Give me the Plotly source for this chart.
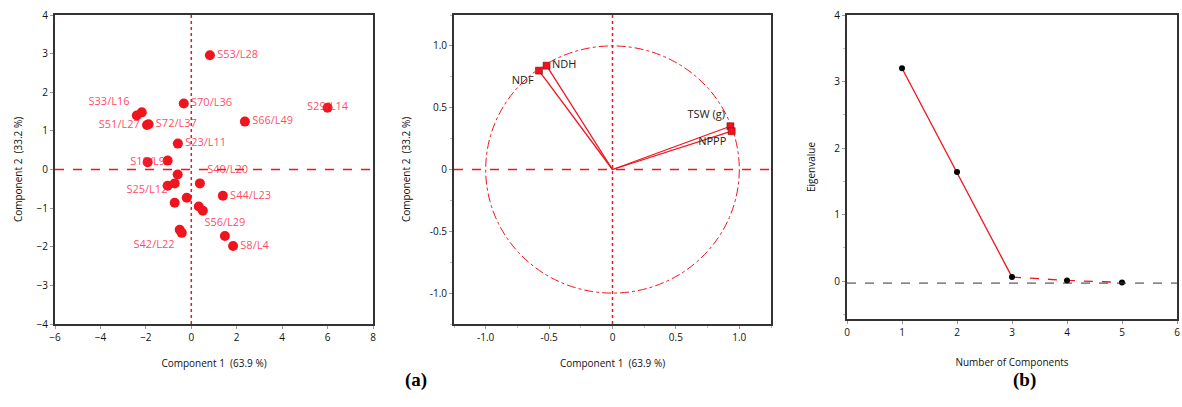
import plotly.graph_objects as go

# ---------------- data ----------------
score_x = [0.82, -0.33, 6.0, 2.36, -2.4, -2.18, -1.95, -1.88, -0.59, -1.92, -1.04,
           -0.6, -1.04, -0.73, 0.38, -0.2, 1.39, -0.73, 0.33, 0.51, -0.51, -0.42, 1.48, 1.84]
score_y = [2.96, 1.71, 1.6, 1.24, 1.4, 1.48, 1.15, 1.17, 0.67, 0.19, 0.23,
           -0.13, -0.42, -0.36, -0.36, -0.73, -0.68, -0.86, -0.96, -1.07, -1.56, -1.64, -1.72, -1.98]
score_labels = ["S53/L28", "S70/L36", "S29/L14", "S66/L49", "S33/L16", "", "S51/L27", "S72/L37",
                "S23/L11", "S18/L9", "", "", "", "", "S40/L20", "", "S44/L23", "S25/L12",
                "", "", "", "S42/L22", "S56/L29", "S8/L4"]
score_textpos = ["middle right", "middle right", "middle center", "middle right", "top left",
                 "middle right", "middle left", "middle right", "middle right", "middle center",
                 "middle right", "middle right", "middle right", "middle right", "top right",
                 "middle right", "middle right", "top left", "middle right", "middle right",
                 "middle right", "bottom left", "top center", "middle right"]

load_names = ["NDF", "NDH", "TSW (g)", "NPPP"]
load_x = [-0.58, -0.52, 0.93, 0.94]
load_y = [0.80, 0.84, 0.35, 0.31]
load_textpos = ["bottom left", "middle right", "top left", "bottom left"]

components = [1, 2, 3, 4, 5]
eigenvalues = [3.2, 1.64, 0.06, 0.01, -0.02]

RED = "rgb(240,20,30)"
LBL = "rgba(255,40,70,0.85)"
FONT = "Open Sans"

fig = go.Figure()

# ---------------- panel 1: scores ----------------
fig.add_trace(go.Scatter(
    x=score_x, y=score_y, mode="markers+text", text=score_labels,
    textposition=score_textpos, textfont=dict(color=LBL, size=11, family=FONT),
    marker=dict(color=RED, size=10), xaxis="x", yaxis="y", showlegend=False))

# ---------------- panel 2: loadings ----------------
for nx, ny in zip(load_x, load_y):
    fig.add_trace(go.Scatter(x=[0, nx], y=[0, ny], mode="lines",
                             line=dict(color=RED, width=1.3), xaxis="x2", yaxis="y2",
                             showlegend=False))
fig.add_trace(go.Scatter(
    x=load_x, y=load_y, mode="markers+text", text=load_names, textposition=load_textpos,
    textfont=dict(color="#222", size=11, family=FONT),
    marker=dict(color=RED, size=7, symbol="square", line=dict(color="#600", width=0.5)),
    xaxis="x2", yaxis="y2", showlegend=False))

# ---------------- panel 3: scree ----------------
fig.add_trace(go.Scatter(x=components[:3], y=eigenvalues[:3], mode="lines",
                         line=dict(color=RED, width=1.3), xaxis="x3", yaxis="y3",
                         showlegend=False))
fig.add_trace(go.Scatter(x=components[2:], y=eigenvalues[2:], mode="lines",
                         line=dict(color=RED, width=1.3, dash="dash"), xaxis="x3", yaxis="y3",
                         showlegend=False))
fig.add_trace(go.Scatter(x=components, y=eigenvalues, mode="markers",
                         marker=dict(color="black", size=6), xaxis="x3", yaxis="y3",
                         showlegend=False))

W, H = 1182, 407
ytop = 1 - 15 / H
ybot = 1 - 324 / H

axis_common = dict(showgrid=False, zeroline=False, showline=True, mirror=True,
                   linecolor="#333", linewidth=2, ticks="outside", ticklen=3,
                   tickcolor="#999", tickfont=dict(size=10, color="#111", family=FONT),
                   title_font=dict(size=10, color="#111", family=FONT), automargin=False)
minor = dict(ticks="outside", ticklen=2, tickcolor="#bbb", showgrid=False)

fig.update_layout(
    width=W, height=H, margin=dict(l=0, r=0, t=0, b=0),
    paper_bgcolor="white", plot_bgcolor="white", font=dict(family=FONT),
    xaxis=dict(axis_common, domain=[55 / W, 373 / W], range=[-6, 8], dtick=2,
               title=dict(text="Component 1  (63.9 %)", standoff=17), anchor="y"),
    yaxis=dict(axis_common, domain=[ybot, ytop], range=[-4, 4], dtick=1,
               title=dict(text="Component 2  (33.2 %)", standoff=12), anchor="x"),
    xaxis2=dict(axis_common, domain=[454 / W, 771 / W], range=[-1.25, 1.25],
                tickvals=[-1, -0.5, 0, 0.5, 1], ticktext=["-1.0", "-0.5", "0", "0.5", "1.0"],
                minor=dict(minor, dtick=0.25, tick0=0),
                title=dict(text="Component 1  (63.9 %)", standoff=17), anchor="y2"),
    yaxis2=dict(axis_common, domain=[ybot, ytop], range=[-1.25, 1.25],
                tickvals=[-1, -0.5, 0, 0.5, 1], ticktext=["-1.0", "-0.5", "0", "0.5", "1.0"],
                minor=dict(minor, dtick=0.25, tick0=0),
                title=dict(text="Component 2  (33.2 %)", standoff=17), anchor="x2"),
    xaxis3=dict(axis_common, domain=[847 / W, 1177 / W], range=[0, 6], dtick=1,
                title=dict(text="Number of Components", standoff=21), anchor="y3"),
    yaxis3=dict(axis_common, domain=[1 - 319 / H, ytop], range=[-0.57, 4], dtick=1, tick0=0,
                minor=dict(minor, dtick=0.5, tick0=0),
                title=dict(text="Eigenvalue", standoff=17), anchor="x3"),
)

# reference lines
shapes = [
    dict(type="line", xref="x", yref="y domain", x0=0, x1=0, y0=0, y1=1,
         line=dict(color=RED, width=1.5, dash="dot")),
    dict(type="line", xref="x domain", yref="y", x0=0, x1=1, y0=0, y1=0,
         line=dict(color=RED, width=1.4, dash="dash")),
    dict(type="line", xref="x2", yref="y2 domain", x0=0, x1=0, y0=0, y1=1,
         line=dict(color=RED, width=1.5, dash="dot")),
    dict(type="line", xref="x2 domain", yref="y2", x0=0, x1=1, y0=0, y1=0,
         line=dict(color=RED, width=1.4, dash="dash")),
    dict(type="circle", xref="x2", yref="y2", x0=-1, x1=1, y0=-1, y1=1,
         line=dict(color=RED, width=1, dash="dashdot")),
    dict(type="line", xref="x3 domain", yref="y3", x0=0, x1=1, y0=-0.03, y1=-0.03,
         line=dict(color="#333", width=1, dash="dash")),
]
fig.update_layout(shapes=shapes)

fig.add_annotation(text="<b>(a)</b>", x=416 / W, y=1 - 393 / H, xref="paper", yref="paper",
                   showarrow=False, font=dict(family="Liberation Serif", size=19, color="black"))
fig.add_annotation(text="<b>(b)</b>", x=1038 / W, y=1 - 393 / H, xref="paper", yref="paper",
                   showarrow=False, font=dict(family="Liberation Serif", size=19, color="black"))

fig.write_html("out.html", config={"displayModeBar": False},
               post_script="document.body.style.margin='0';document.body.style.overflow='hidden';")
